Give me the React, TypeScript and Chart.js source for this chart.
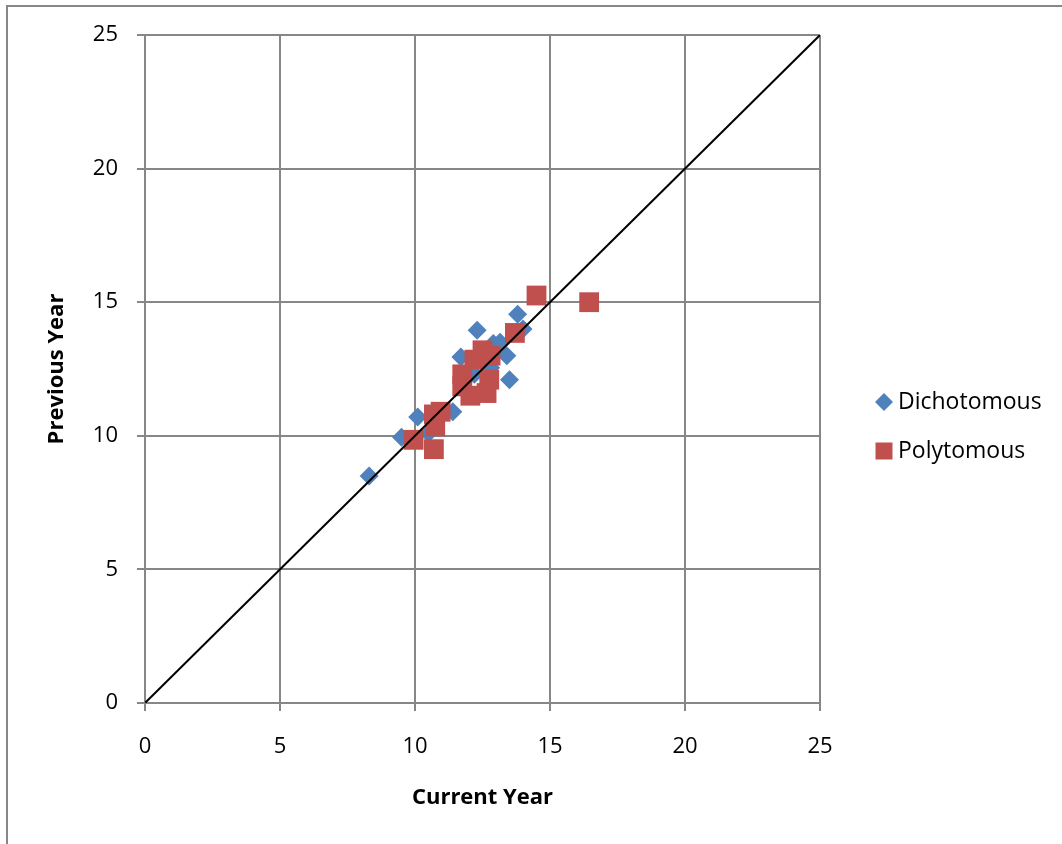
import React, { useEffect, useRef } from "react";
import { Chart, registerables } from "chart.js";

Chart.register(...registerables);

const dichotomousX = [8.3, 9.5, 10.1, 10.5, 11.4, 11.7, 12.3, 12.9, 13.15, 13.4, 13.5, 13.8, 14.0, 12.8, 12.2];
const dichotomousY = [8.5, 9.95, 10.7, 10.1, 10.9, 12.95, 13.95, 13.45, 13.5, 13.0, 12.1, 14.55, 14.0, 12.55, 12.3];

const polytomousX = [9.95, 10.7, 10.75, 10.95, 10.7, 11.75, 11.75, 12.05, 12.65, 12.75, 12.2, 12.5, 12.8, 13.7, 14.5, 16.45];
const polytomousY = [9.85, 9.5, 10.35, 10.9, 10.8, 12.3, 11.85, 11.5, 11.6, 12.1, 12.85, 13.2, 13.0, 13.85, 15.25, 15.0];

const refLineX = [0, 25];
const refLineY = [0, 25];

const seriesNames = ["Dichotomous", "Polytomous"];
const axisTicks = [0, 5, 10, 15, 20, 25];
const xTitle = "Current Year";
const yTitle = "Previous Year";

const BLUE = "#4F81BD";
const RED = "#C0504D";
const GRID = "#878787";
const FONT = "'Open Sans', Calibri, sans-serif";

const toPoints = (xs: number[], ys: number[]) => xs.map((x, i) => ({ x, y: ys[i] }));

const legendPlugin = {
  id: "customLegend",
  afterDraw(chart: any) {
    const ctx = chart.ctx;
    ctx.save();
    const items = [
      { name: seriesNames[0], color: BLUE, style: "diamond", y: 402 },
      { name: seriesNames[1], color: RED, style: "square", y: 451 },
    ];
    items.forEach((it) => {
      ctx.fillStyle = it.color;
      const cx = 884;
      if (it.style === "diamond") {
        ctx.beginPath();
        ctx.moveTo(cx, it.y - 9);
        ctx.lineTo(cx + 9, it.y);
        ctx.lineTo(cx, it.y + 9);
        ctx.lineTo(cx - 9, it.y);
        ctx.closePath();
        ctx.fill();
      } else {
        ctx.fillRect(cx - 8.5, it.y - 8.5, 17, 17);
      }
      ctx.fillStyle = "#000";
      ctx.font = `23px ${FONT}`;
      ctx.textBaseline = "middle";
      ctx.textAlign = "left";
      ctx.fillText(it.name, 898, it.y);
    });
    ctx.restore();
  },
};

export default function App() {
  const ref = useRef<HTMLCanvasElement | null>(null);

  useEffect(() => {
    if (!ref.current) return;
    const chart = new Chart(ref.current, {
      type: "scatter",
      data: {
        datasets: [
          {
            type: "line",
            label: "ref",
            data: toPoints(refLineX, refLineY),
            borderColor: "#000",
            borderWidth: 2,
            pointRadius: 0,
            fill: false,
            order: 0,
          } as any,
          {
            label: seriesNames[1],
            data: toPoints(polytomousX, polytomousY),
            backgroundColor: RED,
            borderColor: RED,
            borderWidth: 0,
            pointStyle: "rect",
            pointRadius: 14,
            order: 1,
          },
          {
            label: seriesNames[0],
            data: toPoints(dichotomousX, dichotomousY),
            backgroundColor: BLUE,
            borderColor: BLUE,
            borderWidth: 0,
            pointStyle: "rectRot",
            pointRadius: 9.5,
            order: 2,
          },
        ],
      },
      options: {
        animation: false,
        responsive: false,
        devicePixelRatio: 1,
        layout: { padding: { left: 0, top: 35, right: 242, bottom: 0 } },
        plugins: {
          legend: { display: false },
          tooltip: { enabled: false },
        },
        scales: {
          x: {
            type: "linear",
            min: 0,
            max: 25,
            afterFit: (s: any) => {
              s.height = 141;
            },
            afterBuildTicks: (s: any) => {
              s.ticks = axisTicks.map((v) => ({ value: v }));
            },
            ticks: {
              color: "#000",
              font: { family: FONT, size: 22 },
              padding: 23,
              maxRotation: 0,
            },
            grid: { color: GRID, lineWidth: 2, tickLength: 8, drawTicks: true },
            border: { color: GRID, width: 2 },
            title: {
              display: true,
              text: xTitle,
              color: "#000",
              font: { family: FONT, size: 22, weight: "bold" },
              padding: { top: 0, bottom: 33 },
            },
          },
          y: {
            type: "linear",
            min: 0,
            max: 25,
            afterFit: (s: any) => {
              s.width = 145;
            },
            afterBuildTicks: (s: any) => {
              s.ticks = axisTicks.map((v) => ({ value: v }));
            },
            ticks: {
              color: "#000",
              font: { family: FONT, size: 22 },
              padding: 19,
            },
            grid: { color: GRID, lineWidth: 2, tickLength: 8, drawTicks: true },
            border: { color: GRID, width: 2 },
            title: {
              display: true,
              text: yTitle,
              color: "#000",
              font: { family: FONT, size: 22, weight: "bold" },
              padding: { top: 44, bottom: 0 },
            },
          },
        },
      },
      plugins: [legendPlugin],
    });
    return () => chart.destroy();
  }, []);

  return (
    <div
      style={{
        position: "fixed",
        left: 0,
        top: 0,
        width: 1062,
        height: 844,
        background: "#fff",
        overflow: "hidden",
      }}
    >
      <div
        style={{
          position: "absolute",
          left: 6,
          top: 5,
          width: 1100,
          height: 900,
          borderLeft: `2px solid ${GRID}`,
          borderTop: `2px solid ${GRID}`,
        }}
      />
      <canvas
        ref={ref}
        width={1062}
        height={844}
        style={{ position: "absolute", left: 0, top: 0, width: 1062, height: 844 }}
      />
    </div>
  );
}
